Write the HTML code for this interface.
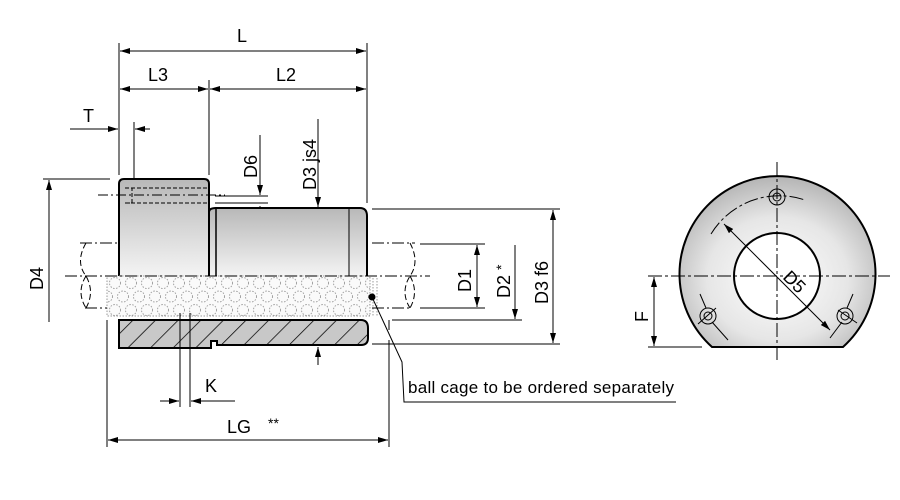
<!DOCTYPE html>
<html><head><style>html,body{margin:0;padding:0;background:#fff}svg{display:block}</style></head>
<body>
<svg width="900" height="500" viewBox="0 0 900 500" xmlns="http://www.w3.org/2000/svg" font-family="Liberation Sans, sans-serif">
<defs>
<linearGradient id="g" x1="0" y1="0" x2="0" y2="1"><stop offset="0" stop-color="#b8b8b8"/><stop offset="1" stop-color="#f4f4f4"/></linearGradient>
<radialGradient id="rg" cx="0.5" cy="0.6" r="0.6"><stop offset="0" stop-color="#ffffff"/><stop offset="0.6" stop-color="#e6e6e6"/><stop offset="1" stop-color="#b4b4b4"/></radialGradient>
<pattern id="h" width="16" height="16" patternUnits="userSpaceOnUse" patternTransform="rotate(45)"><rect width="16" height="16" fill="#c8c8c8"/><line x1="0" y1="0" x2="0" y2="16" stroke="#000" stroke-width="1.5"/></pattern>
<pattern id="balls" x="107" y="276" width="16" height="27" patternUnits="userSpaceOnUse"><rect width="16" height="27" fill="#fafafa"/><g fill="none" stroke="#999" stroke-width="0.9" stroke-dasharray="1.5,1.5"><circle cx="8" cy="7" r="5.5"/><circle cx="0" cy="20.5" r="5.5"/><circle cx="16" cy="20.5" r="5.5"/></g></pattern>
<marker id="a" markerWidth="10" markerHeight="6" refX="10" refY="3" orient="auto-start-reverse" markerUnits="userSpaceOnUse"><path d="M0,0L10,3L0,6z" fill="#000"/></marker>
</defs>
<g stroke="#000" stroke-width="1" fill="none">
<line x1="119" y1="43" x2="119" y2="175"/><line x1="367" y1="43" x2="367" y2="203"/>
<line x1="120" y1="51" x2="366" y2="51" marker-start="url(#a)" marker-end="url(#a)"/>
<line x1="209" y1="80" x2="209" y2="175"/>
<line x1="120" y1="89" x2="208" y2="89" marker-start="url(#a)" marker-end="url(#a)"/>
<line x1="210" y1="89" x2="366" y2="89" marker-start="url(#a)" marker-end="url(#a)"/>
<line x1="70" y1="129" x2="118" y2="129" marker-end="url(#a)"/>
<line x1="150" y1="129" x2="135" y2="129" marker-end="url(#a)"/>
<line x1="134" y1="122" x2="134" y2="185"/>
<line x1="260" y1="135" x2="260" y2="195" marker-end="url(#a)"/>
<line x1="260" y1="228" x2="260" y2="206" marker-end="url(#a)"/>
<line x1="215" y1="196" x2="268" y2="196"/><line x1="215" y1="203" x2="268" y2="203"/>
<line x1="318" y1="119" x2="318" y2="207" marker-end="url(#a)"/>
<line x1="43" y1="179" x2="110" y2="179"/>
<line x1="49" y1="322" x2="49" y2="180" marker-end="url(#a)"/>
<path d="M119,276 L119,184 Q119,179 124,179 L204,179 Q209,179 209,184 L209,276" fill="url(#g)" stroke-width="2"/>
<line x1="213" y1="210" x2="213" y2="276"/>
<path d="M209,276 V212 Q209,208 216,208 H360 Q367,208 367,216 V276" fill="url(#g)" stroke-width="2"/>
<line x1="216" y1="208" x2="216" y2="276" stroke-width="1.5"/>
<line x1="349" y1="208" x2="349" y2="276"/>
<g stroke-dasharray="4,2"><line x1="125" y1="188" x2="209" y2="188"/><line x1="125" y1="203" x2="209" y2="203"/><path d="M125,188 H132 V203 H125"/></g>
<line x1="98" y1="195" x2="225" y2="195" stroke-dasharray="10,3,2,3"/>
<rect x="107" y="276" width="263" height="40" fill="url(#balls)" stroke="#999" stroke-dasharray="1.5,1.5"/>
<line x1="373" y1="278" x2="373" y2="316" stroke="#999" stroke-dasharray="1.5,1.5"/>
<line x1="377" y1="278" x2="377" y2="316" stroke="#999" stroke-dasharray="1.5,1.5"/>
<g stroke-dasharray="12,3,2,3"><line x1="80" y1="243" x2="119" y2="243"/><line x1="372" y1="243" x2="415" y2="243"/>
<line x1="65" y1="276" x2="430" y2="276"/><line x1="85" y1="308" x2="107" y2="308"/><line x1="372" y1="308" x2="412" y2="308"/></g>
<path d="M86,243 Q75,262 86,276 Q95,292 86,308" stroke-dasharray="6,3"/>
<path d="M86,276 Q76,292 86,308" stroke-dasharray="6,3"/>
<path d="M410,243 Q420,262 410,276 Q400,292 410,308" stroke-dasharray="6,3"/>
<path d="M410,276 Q419,292 410,308" stroke-dasharray="6,3"/>
<path d="M119,320 H361 Q368,320 368,328 V338 Q368,345 361,345 H217 V341 H211 V348 H119 Z" fill="url(#h)" stroke-width="2"/>
<line x1="180" y1="313" x2="180" y2="407"/><line x1="190" y1="313" x2="190" y2="407"/>
<line x1="160" y1="401" x2="179" y2="401" marker-end="url(#a)"/>
<line x1="235" y1="401" x2="191" y2="401" marker-end="url(#a)"/>
<line x1="107" y1="320" x2="107" y2="447"/><line x1="389" y1="340" x2="389" y2="447"/>
<line x1="108" y1="440" x2="388" y2="440" marker-start="url(#a)" marker-end="url(#a)"/>
<line x1="318" y1="365" x2="318" y2="347" marker-end="url(#a)"/>
<line x1="372" y1="209" x2="560" y2="209"/><line x1="372" y1="344" x2="560" y2="344"/>
<line x1="420" y1="244" x2="485" y2="244"/><line x1="420" y1="308" x2="485" y2="308"/>
<line x1="392" y1="320" x2="522" y2="320"/>
<line x1="477" y1="245" x2="477" y2="307" marker-start="url(#a)" marker-end="url(#a)"/>
<line x1="515" y1="245" x2="515" y2="319" marker-end="url(#a)"/>
<line x1="553" y1="210" x2="553" y2="343" marker-start="url(#a)" marker-end="url(#a)"/>
<line x1="389" y1="320" x2="389" y2="330"/>
<circle cx="372" cy="297" r="3" fill="#000"/>
<polyline points="372,297 402,362 404,402 676,402"/>
<path d="M712,347 A98,98 0 1 1 843,347 Z" fill="url(#rg)" stroke-width="2"/>
<circle cx="777" cy="276" r="43" fill="#fff" stroke-width="2"/>
<g stroke-dasharray="14,3,3,3"><line x1="648" y1="276" x2="890" y2="276"/><line x1="777" y1="162" x2="777" y2="362"/>
<path d="M711,234 A80,80 0 0 1 805,200"/></g>
<line x1="724" y1="224" x2="830" y2="330" marker-start="url(#a)" marker-end="url(#a)"/>
<circle cx="777" cy="197" r="8"/><circle cx="777" cy="197" r="4"/>
<circle cx="708" cy="316" r="8"/><circle cx="708" cy="316" r="4"/>
<circle cx="845" cy="316" r="8"/><circle cx="845" cy="316" r="4"/>
<line x1="700" y1="294" x2="706" y2="308"/><line x1="712" y1="322" x2="728" y2="340"/><line x1="698" y1="324" x2="716" y2="308"/>
<line x1="853" y1="294" x2="847" y2="308"/><line x1="842" y1="322" x2="830" y2="338"/><line x1="838" y1="310" x2="857" y2="323"/>
<line x1="648" y1="347" x2="702" y2="347"/>
<line x1="654" y1="277" x2="654" y2="346" marker-start="url(#a)" marker-end="url(#a)"/>
</g>
<g font-size="18" fill="#000">
<text x="237" y="42">L</text>
<text x="148" y="81">L3</text>
<text x="276" y="81">L2</text>
<text x="83" y="122">T</text>
<text x="205" y="392">K</text>
<text x="227" y="433">LG</text><text x="268" y="428" font-size="14">**</text>
<text x="408" y="393" font-size="17" textLength="266">ball cage to be ordered separately</text>
<text transform="translate(257,178) rotate(-90)">D6</text>
<text transform="translate(316,190) rotate(-90)">D3 js4</text>
<text transform="translate(43,290) rotate(-90)">D4</text>
<text transform="translate(471,292) rotate(-90)">D1</text>
<text transform="translate(510,298) rotate(-90)">D2 <tspan font-size="14" dy="-4">*</tspan></text>
<text transform="translate(548,304) rotate(-90)">D3 f6</text>
<text transform="translate(648,322) rotate(-90)">F</text>
<text transform="translate(782,278) rotate(45)">D5</text>
</g>
</svg>
</body></html>
